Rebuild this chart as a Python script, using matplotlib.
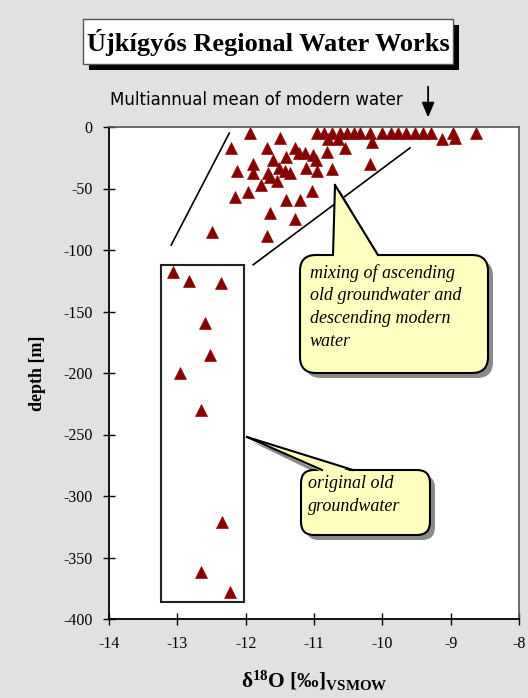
import numpy as np
import matplotlib
matplotlib.use('Agg')
import matplotlib.pyplot as plt
import matplotlib.transforms as mtransforms
from matplotlib.patches import FancyBboxPatch, Polygon, Rectangle
from matplotlib.lines import Line2D

# serif bold for the math axis label
plt.rcParams['mathtext.fontset'] = 'custom'
plt.rcParams['mathtext.bf'] = 'Liberation Serif:bold'
plt.rcParams['mathtext.rm'] = 'Liberation Serif'
plt.rcParams['mathtext.it'] = 'Liberation Serif:italic'

# delta18O [permil] and depth [m] - mixing zone (upper part)
d18o_mix = [-11.94, -10.96, -10.85, -10.74, -10.62, -10.52, -10.41, -10.33, -10.18,
            -10.00, -9.87, -9.77, -9.65, -9.52, -9.40, -9.29, -8.97, -8.63,
            -11.50, -10.80, -10.65, -10.15, -9.13, -8.94,
            -12.21, -11.69, -11.28, -10.55,
            -11.41, -11.22, -11.13, -11.01, -10.81, -10.97, -11.60,
            -11.89, -11.89, -12.12, -11.67, -11.51, -11.42, -11.35, -11.12, -10.96, -10.74, -10.18,
            -11.64, -11.54, -11.78, -11.97, -12.16, -11.41, -11.20, -11.03,
            -11.65, -11.28, -12.49, -11.69]
depth_mix = [-5, -5, -5, -5, -5, -5, -5, -5, -5,
             -5, -5, -5, -5, -5, -5, -5, -5, -5,
             -9, -10, -10, -12, -10, -9,
             -17, -17, -17, -17,
             -24, -21, -21, -23, -20, -27, -27,
             -30, -37, -36, -37, -33, -36, -37, -33, -36, -34, -30,
             -41, -44, -47, -53, -57, -59, -59, -52,
             -70, -75, -85, -89]

# original old groundwater (deep wells)
d18o_old = [-13.06, -12.83, -12.36, -12.60, -12.52, -12.96, -12.65, -12.35, -12.65, -12.23]
depth_old = [-118, -125, -127, -159, -185, -200, -230, -321, -362, -378]

modern_mean = -9.33  # multiannual mean of modern water

xticks = np.arange(-14, -7, 1)
yticks = np.arange(-400, 1, 50)

W, H = 528, 698
fig = plt.figure(figsize=(W / 100, H / 100), dpi=100)
fig.patch.set_facecolor('#e1e1e1')
ax = fig.add_axes([109 / W, 1 - 619 / H, 410 / W, 492 / H])
ax.set_facecolor('white')

# pixel coordinates with origin top-left
px = mtransforms.Affine2D().scale(1 / W, -1 / H).translate(0, 1) + fig.transFigure

ax.plot(d18o_mix, depth_mix, '^', color='#820000', markersize=8.5, markeredgewidth=0.5,
        markeredgecolor='#9a1010', clip_on=False, zorder=3)
ax.plot(d18o_old, depth_old, '^', color='#820000', markersize=8.5, markeredgewidth=0.5,
        markeredgecolor='#9a1010', clip_on=False, zorder=3)

ax.set_xlim(-14, -8)
ax.set_ylim(-400, 0)
ax.set_xticks(xticks)
ax.set_yticks(yticks)
ax.set_xticklabels([str(t) for t in xticks])
ax.set_yticklabels([str(t) for t in yticks])
ax.tick_params(direction='inout', length=8, width=1, colors='black', labelsize=11.5, pad=8)
for lab in ax.get_xticklabels() + ax.get_yticklabels():
    lab.set_family('Liberation Serif')
for s in ['left', 'bottom']:
    ax.spines[s].set_linewidth(1.3)
    ax.spines[s].set_color('black')
for s in ['top', 'right']:
    ax.spines[s].set_linewidth(1.2)
    ax.spines[s].set_color('#555555')

ax.set_xlabel(r'$\mathbf{δ^{18}O\ [‰]_{VSMOW}}$', fontsize=15.5, labelpad=12)
ax.set_ylabel('depth [m]', fontsize=13, fontweight='bold', family='Liberation Serif', labelpad=12)

# wedge lines of the mixing zone
ax.plot([-13.09, -12.24], [-96, -5], color='black', lw=1.2, zorder=2)
ax.plot([-11.89, -9.595], [-112, -17], color='black', lw=1.2, zorder=2)
# box around the old groundwater samples
ax.add_patch(Rectangle((-13.24, -386), 1.22, 274, fill=False, ec='#222222', lw=1.5, zorder=2))

# arrow for the modern water mean
ax.annotate('', xy=(modern_mean, 5.5), xytext=(modern_mean, 35),
            arrowprops=dict(arrowstyle='-|>,head_length=0.9,head_width=0.38', color='black', lw=1.3),
            annotation_clip=False)
fig.text(110 / W, 1 - 100 / H, 'Multiannual mean of modern water', fontsize=12,
         family='DejaVu Sans', va='center', ha='left')

# title box
fig.add_artist(Rectangle((89, 25), 370, 45, transform=px, fc='black', ec='none'))
fig.add_artist(Rectangle((83, 19), 370, 45, transform=px, fc='white', ec='#555555', lw=1))
fig.text(268 / W, 1 - 43 / H, 'Újkígyós Regional Water Works', fontsize=19, fontweight='bold',
         family='Liberation Serif', ha='center', va='center')


def callout(x0, y0, x1, y1, tip, bl, br, r, lines, tx, ty):
    # speech bubble drawn in pixel coordinates
    sh = 5
    fig.add_artist(FancyBboxPatch((x0 + sh, y0 + sh), x1 - x0, y1 - y0,
                                  boxstyle='round,pad=0,rounding_size=%d' % r,
                                  transform=px, fc='#8a8a8a', ec='none'))
    fig.add_artist(Polygon([(tip[0] + sh, tip[1] + sh), (bl + sh, y0 + sh + 3), (br + sh, y0 + sh + 3)],
                           transform=px, fc='#8a8a8a', ec='none'))
    fig.add_artist(FancyBboxPatch((x0, y0), x1 - x0, y1 - y0,
                                  boxstyle='round,pad=0,rounding_size=%d' % r,
                                  transform=px, fc='#ffffc0', ec='black', lw=1.5))
    fig.add_artist(Polygon([tip, (bl, y0 + 2), (br, y0 + 2)], transform=px, fc='#ffffc0', ec='none'))
    fig.add_artist(Line2D([tip[0], bl], [tip[1], y0], transform=px, color='black', lw=1.5))
    fig.add_artist(Line2D([tip[0], br], [tip[1], y0], transform=px, color='black', lw=1.5))
    for i, t in enumerate(lines):
        fig.text(tx / W, 1 - (ty + i * 22.7) / H, t, fontsize=13, style='italic',
                 family='Liberation Serif', ha='left', va='center')


callout(300, 255, 488, 373, (335, 185), 333, 378, 16,
        ['mixing of ascending', 'old groundwater and', 'descending modern', 'water'], 310, 273)
callout(301, 470, 430, 535, (247, 437), 322, 353, 13,
        ['original old', 'groundwater'], 308, 484)

plt.savefig('out.png', dpi=100, facecolor=fig.get_facecolor())
